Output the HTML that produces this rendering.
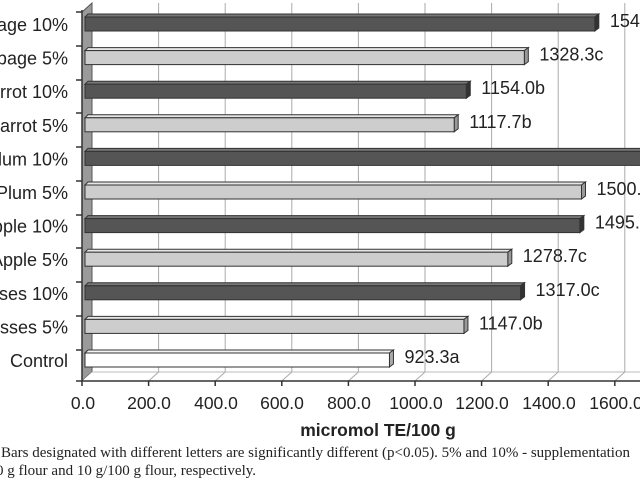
<!DOCTYPE html>
<html><head><style>
html,body{margin:0;padding:0;background:#fff;overflow:hidden}
svg{display:block}
</style></head><body>
<svg width="640" height="480" xmlns="http://www.w3.org/2000/svg" font-family="Liberation Sans, Arial, sans-serif">
<polygon points="82,12 92,3 92,372 82,381" fill="#9a9a9a" stroke="#555" stroke-width="1"/>
<polygon points="82,381 92,372 640,372 640,381" fill="#fff"/>
<line x1="92" y1="372" x2="640" y2="372" stroke="#bbb"/>
<g stroke="#aaa" stroke-width="1">
<line x1="158.6" y1="3" x2="158.6" y2="372"/>
<line x1="225.2" y1="3" x2="225.2" y2="372"/>
<line x1="291.8" y1="3" x2="291.8" y2="372"/>
<line x1="358.4" y1="3" x2="358.4" y2="372"/>
<line x1="425" y1="3" x2="425" y2="372"/>
<line x1="491.6" y1="3" x2="491.6" y2="372"/>
<line x1="558.2" y1="3" x2="558.2" y2="372"/>
<line x1="624.8" y1="3" x2="624.8" y2="372"/>
<line x1="148.6" y1="381" x2="158.6" y2="372"/>
<line x1="215.2" y1="381" x2="225.2" y2="372"/>
<line x1="281.8" y1="381" x2="291.8" y2="372"/>
<line x1="348.4" y1="381" x2="358.4" y2="372"/>
<line x1="415" y1="381" x2="425" y2="372"/>
<line x1="481.6" y1="381" x2="491.6" y2="372"/>
<line x1="548.2" y1="381" x2="558.2" y2="372"/>
<line x1="614.8" y1="381" x2="624.8" y2="372"/>
</g>
<line x1="82" y1="381" x2="640" y2="381" stroke="#333" stroke-width="1.5"/>
<line x1="82" y1="10" x2="82" y2="381" stroke="#333" stroke-width="1.5"/>
<g stroke="#333" stroke-width="1.5">
<line x1="76" y1="12" x2="82" y2="12"/><line x1="76" y1="46" x2="82" y2="46"/><line x1="76" y1="80" x2="82" y2="80"/><line x1="76" y1="113" x2="82" y2="113"/><line x1="76" y1="147" x2="82" y2="147"/><line x1="76" y1="181" x2="82" y2="181"/><line x1="76" y1="215" x2="82" y2="215"/><line x1="76" y1="248" x2="82" y2="248"/><line x1="76" y1="282" x2="82" y2="282"/><line x1="76" y1="316" x2="82" y2="316"/><line x1="76" y1="350" x2="82" y2="350"/><line x1="76" y1="381" x2="82" y2="381"/>
<line x1="82" y1="381" x2="82" y2="386"/><line x1="148.6" y1="381" x2="148.6" y2="386"/><line x1="215.2" y1="381" x2="215.2" y2="386"/><line x1="281.8" y1="381" x2="281.8" y2="386"/><line x1="348.4" y1="381" x2="348.4" y2="386"/><line x1="415" y1="381" x2="415" y2="386"/><line x1="481.6" y1="381" x2="481.6" y2="386"/><line x1="548.2" y1="381" x2="548.2" y2="386"/><line x1="614.8" y1="381" x2="614.8" y2="386"/>
</g>
<g id="bars" stroke="#333" stroke-width="1"></g>
<g font-size="18" fill="#222" text-anchor="end" id="cats"></g>
<g font-size="18" fill="#222" id="vals"></g>
<g font-size="17.5" fill="#222" text-anchor="middle">
<text x="83" y="409">0.0</text><text x="149" y="409">200.0</text><text x="216" y="409">400.0</text><text x="282" y="409">600.0</text><text x="349" y="409">800.0</text><text x="416" y="409">1000.0</text><text x="482" y="409">1200.0</text><text x="549" y="409">1400.0</text><text x="616" y="409">1600.0</text>
</g>
<text x="378" y="436" font-size="17.5" font-weight="bold" text-anchor="middle" fill="#222">micromol TE/100 g</text>
<g font-family="Liberation Serif, serif" font-size="15" fill="#222">
<text x="1" y="457">Bars designated with different letters are significantly different (p&lt;0.05). 5% and 10% - supplementation</text>
<text x="-4" y="475">0 g flour and 10 g/100 g flour, respectively.</text>
</g>
<script>
var d=[["Cabbage 10%",1540,"1546.0d",1],["Cabbage 5%",1328.3,"1328.3c",0],["Carrot 10%",1154,"1154.0b",1],["Carrot 5%",1117.7,"1117.7b",0],["Plum 10%",1720,"",1],["Plum 5%",1500,"1500.0d",0],["Apple 10%",1495,"1495.3d",1],["Apple 5%",1278.7,"1278.7c",0],["Molasses 10%",1317,"1317.0c",1],["Molasses 5%",1147,"1147.0b",0],["Control",923.3,"923.3a",2]];
var ns="http://www.w3.org/2000/svg";
function el(p,t,a,txt){var e=document.createElementNS(ns,t);for(var k in a)e.setAttribute(k,a[k]);if(txt)e.textContent=txt;p.appendChild(e);return e;}
var B=document.getElementById("bars"),C=document.getElementById("cats"),V=document.getElementById("vals");
d.forEach(function(r,i){
 var y=17+33.6*i,h=14,x0=85,xe=82+r[1]*0.333;
 var f=r[3]==1?"#555":r[3]==0?"#cdcdcd":"#fff";
 var t=r[3]==1?"#777":r[3]==0?"#e6e6e6":"#f4f4f4";
 var s=r[3]==1?"#333":r[3]==0?"#999":"#aaa";
 el(B,"polygon",{points:x0+","+y+" "+(x0+3)+","+(y-3)+" "+(xe+4)+","+(y-3)+" "+xe+","+y,fill:t});
 el(B,"polygon",{points:xe+","+y+" "+(xe+4)+","+(y-3)+" "+(xe+4)+","+(y+h-3)+" "+xe+","+(y+h),fill:s});
 el(B,"rect",{x:x0,y:y,width:xe-x0,height:h,fill:f});
 el(C,"text",{x:68,y:y+14},r[0]);
 if(r[2])el(V,"text",{x:xe+15,y:y+10},r[2]);
});
</script>
</svg>
</body></html>
